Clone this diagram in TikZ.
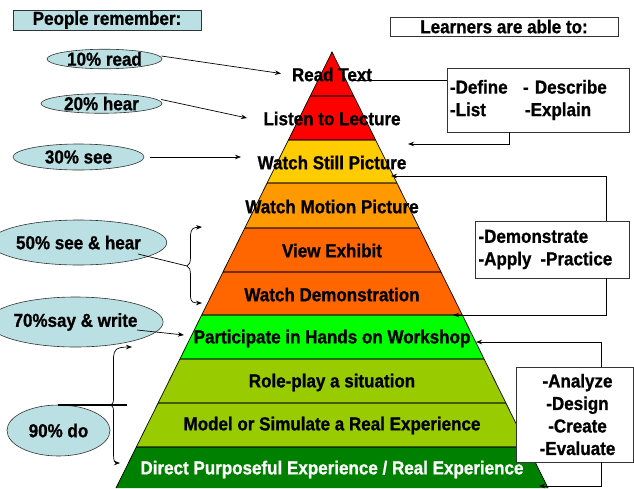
\documentclass[tikz,border=0pt]{standalone}
\usepackage{fontspec}
\setmainfont{Liberation Sans}[FakeStretch=0.905, BoldFeatures={FakeBold=0.9}]
\usetikzlibrary{calc,arrows.meta,shapes.geometric}
\definecolor{lblue}{RGB}{187,224,228}
\definecolor{lyellow}{RGB}{255,204,0}
\definecolor{lorange}{RGB}{255,153,0}
\definecolor{dorange}{RGB}{255,102,0}
\definecolor{bgreen}{RGB}{0,255,0}
\definecolor{ygreen}{RGB}{153,204,0}
\definecolor{dgreen}{RGB}{0,128,0}
\tikzset{
  lbl/.style={font=\fontsize{18.8}{22.5}\selectfont\bfseries, inner sep=0pt},
  pct/.style={ellipse, draw=black!80, fill=lblue, line width=0.6pt, inner sep=0pt, font=\fontsize{18.8}{22.5}\selectfont\bfseries},
  infobox/.style={draw=black!80, fill=white, line width=0.8pt, inner sep=0pt, font=\fontsize{18.8}{22.5}\selectfont\bfseries},
  conn/.style={line width=0.7pt, -{Stealth[length=6pt,width=4.5pt]}},
  plain/.style={line width=0.7pt},
  divider/.style={line width=2pt, black, opacity=0.55}
}
\begin{document}
\begin{tikzpicture}[x=1pt,y=-1pt]
\useasboundingbox (0,0) rectangle (634,488);
\coordinate (A) at (332,52);
\coordinate (BL) at (116,488);
\coordinate (BR) at (548,488);
% layers
\foreach \ya/\yb/\col in {52/96/red,96/140/red,140/183/lyellow,183/228/lorange,228/272/dorange,272/315/dorange,315/359/bgreen,359/403/ygreen,403/447/ygreen,447/488/dgreen}{
  \fill[\col] ($(A)!{(\ya-52)/436}!(BL)$) -- ($(A)!{(\yb-52)/436}!(BL)$) -- ($(A)!{(\yb-52)/436}!(BR)$) -- ($(A)!{(\ya-52)/436}!(BR)$) -- cycle;
}
\foreach \y in {96,140,183,228,272,315,359,403,447}{
  \draw[divider] ($(A)!{(\y-52)/436}!(BL)$) -- ($(A)!{(\y-52)/436}!(BR)$);
}
\draw[line width=0.7pt] (BL) -- (A) -- (BR);
\coordinate (rtend) at (352,80);
% layer labels
\node[lbl] (l1) at (332,74.5) {Read Text};
\node[lbl] (l2) at (332,118.5) {Listen to Lecture};
\node[lbl] (l3) at (332,162.5) {Watch Still Picture};
\node[lbl] (l4) at (332,206.5) {Watch Motion Picture};
\node[lbl] (l5) at (332,250.5) {View Exhibit};
\node[lbl] (l6) at (332,294.5) {Watch Demonstration};
\node[lbl] (l7) at (332,338.5) {Participate in Hands on Workshop};
\node[lbl] (l8) at (332,382.5) {Role-play a situation};
\node[lbl] (l9) at (332,425.5) {Model or Simulate a Real Experience};
\node[lbl, text=white] (l10) at (332,469.5) {Direct Purposeful Experience / Real Experience};
% headers
\node[infobox, fill=lblue, minimum width=188pt, minimum height=20pt] (pr) at (107,20) {People remember:};
\node[infobox, minimum width=228pt, minimum height=19pt] (la) at (504,26.5) {Learners are able to:};
% ellipses
\node[pct, minimum width=115pt, minimum height=18pt] (e10) at (104.5,59) {10\% read};
\node[pct, minimum width=121pt, minimum height=19pt] (e20) at (101.5,103.5) {20\% hear};
\node[pct, minimum width=131pt, minimum height=26pt] (e30) at (78.5,157) {30\% see};
\node[pct, minimum width=131pt, minimum height=45pt] (e50) at (78.5,242.5) {50\% see \& hear};
\node[pct, minimum width=125pt, minimum height=50pt] (e70) at (75.5,322) {70\%say \& write};
\node[pct, minimum width=103pt, minimum height=51pt] (e90) at (58.5,430.5) {90\% do};
% arrows on left
\coordinate (t10) at (281,73.5);
\coordinate (t20) at (247,118);
\coordinate (s30) at (150,157);
\coordinate (t30) at (241,157);
\draw[conn] (e10.east) ++(-1,-3) -- (t10);
\draw[conn] (e20.east) ++(-1,-4) -- (t20);
\draw[conn] (s30) -- (t30);
% 50% brace
\coordinate (s50) at (138,254);
\coordinate (b50) at (187,266);
\coordinate (b50t) at (202,227);
\coordinate (b50b) at (202,303);
\draw[plain] (s50) -- (b50);
\draw[conn] (b50) .. controls (190,265) and (190,262) .. (190.5,258) -- (190.5,235) .. controls (191,229) and (193,227.5) .. (b50t);
\draw[conn] (b50) .. controls (190,267) and (190,270) .. (190.5,274) -- (190.5,297) .. controls (191,302) and (193,303) .. (b50b);
% 70%
\coordinate (s70) at (137,330);
\coordinate (t70) at (184,335);
\draw[conn] (s70) -- (t70);
% 90% brace
\coordinate (b90) at (111,405);
\coordinate (b90t) at (132,347);
\coordinate (b90b) at (120,463);
\draw[conn] (b90) .. controls (113,404) and (113.5,402) .. (113.5,398) -- (113.5,357) .. controls (114,350) and (116,347) .. (b90t);
\draw[conn] (b90) .. controls (113,406) and (113.5,408) .. (113.5,412) -- (113.5,455) .. controls (113.5,461) and (115,463) .. (b90b);
\coordinate (h90a) at (58,405);
\coordinate (h90b) at (127,405);
\draw[line width=1.4pt] (h90a) -- (h90b);
% right boxes
\node[infobox, minimum width=182pt, minimum height=64pt, align=left, text width=176pt] (r1) at (538,100) {\raisebox{-2pt}{\makebox[73pt][l]{-Define}- Describe}\\\raisebox{-2pt}{\makebox[75pt][l]{-List}-Explain}};
\node[infobox, minimum width=154pt, minimum height=57pt, align=left, text width=147pt] (r2) at (552,249.5) {-Demonstrate\\-Apply\hspace{9pt}-Practice};
\node[infobox, minimum width=117pt, minimum height=95pt, align=center] (r3) at (574.5,414.5) {\hspace{6pt}-Analyze\\\hspace{6pt}-Design\\\hspace{6pt}-Create\\\hspace{6pt}-Evaluate};
% right connectors
\coordinate (r1in) at (447,80);
\draw[plain] (rtend) -- (r1in);
\coordinate (r1a) at (509,132);
\coordinate (r1t) at (408,144);
\draw[conn] (r1a) |- (r1t);
\coordinate (r2a) at (606,221);
\coordinate (r2t) at (391,176);
\draw[conn] (r2a) |- (r2t);
\coordinate (r2b) at (606,278);
\coordinate (r2u) at (453,315);
\draw[conn] (r2b) |- (r2u);
\coordinate (r3a) at (601,367);
\coordinate (r3t) at (476,342);
\draw[conn] (r3a) |- (r3t);
\coordinate (r3b) at (601,462);
\coordinate (r3u) at (539,486);
\draw[conn] (r3b) |- (r3u);
\end{tikzpicture}
\end{document}
